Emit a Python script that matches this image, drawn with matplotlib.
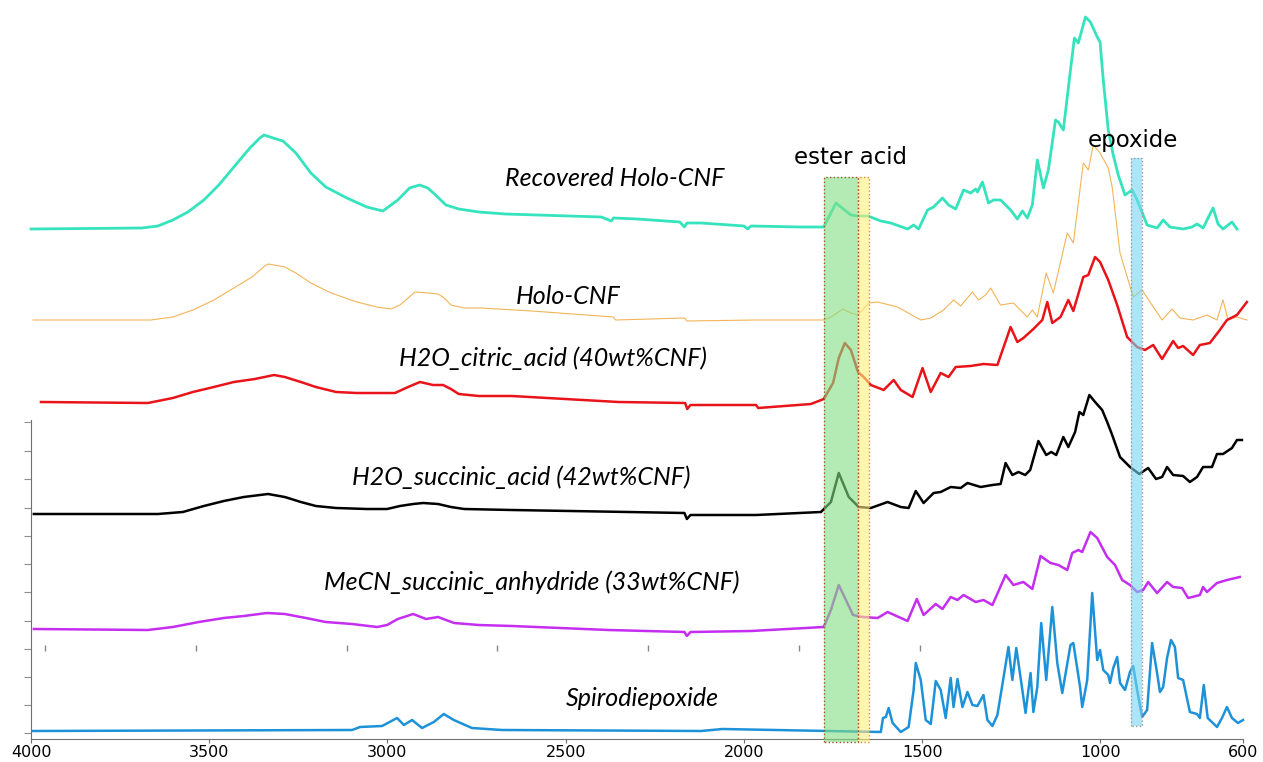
"""Stacked FTIR spectra of CNF composites with ester / acid / epoxide bands marked."""
import matplotlib
matplotlib.use("Agg")
import matplotlib.pyplot as plt
import numpy as np

# (wavenumber cm-1, offset absorbance in arbitrary units)
RECOVERED = [(4000, 510), (3689, 511), (3644, 513), (3602, 519), (3560, 527), (3515, 539), (3473, 554),
             (3431, 572), (3386, 591), (3358, 601), (3346, 604), (3321, 601), (3293, 598), (3257, 586),
             (3215, 566), (3173, 552), (3114, 541), (3058, 532), (3013, 528), (2971, 539), (2938, 551),
             (2910, 554), (2887, 551), (2865, 544), (2836, 534), (2800, 530), (2744, 527), (2670, 525),
             (2400, 522), (2372, 518), (2366, 521),
             (2300, 520), (2180, 517), (2167, 512), (2160, 516), (2120, 516), (2000, 513), (1990, 510),
             (1980, 513), (1840, 512), (1776, 512), (1742, 536), (1700, 524), (1680, 523), (1652, 523),
             (1616, 518), (1588, 516), (1541, 510), (1524, 514), (1510, 510), (1485, 529), (1468, 532),
             (1443, 541), (1426, 534), (1406, 530), (1384, 549), (1364, 546), (1350, 550), (1345, 547),
             (1331, 557), (1314, 536), (1300, 539), (1280, 539), (1252, 529), (1233, 520), (1219, 528),
             (1205, 521), (1191, 534), (1177, 579), (1160, 551), (1146, 569), (1126, 619), (1118, 617),
             (1104, 609), (1084, 669), (1073, 701), (1062, 696), (1042, 722), (1028, 717), (1009, 702),
             (1001, 697), (992, 659), (978, 609), (964, 584), (950, 564), (931, 544), (911, 549),
             (897, 539), (869, 514), (841, 511), (824, 519), (805, 512), (768, 510), (743, 512),
             (729, 515), (712, 511), (684, 531), (670, 515), (656, 510), (631, 517), (617, 510)]

HOLO = [(3994, 419), (3664, 419), (3602, 422), (3546, 429), (3487, 439), (3431, 451), (3380, 462),
        (3344, 473), (3335, 475), (3302, 473), (3288, 472), (3257, 466), (3215, 456), (3158, 446),
        (3086, 437), (3029, 432), (2990, 430), (2965, 434), (2942, 441), (2923, 447), (2886, 446),
        (2858, 445), (2844, 442), (2822, 434), (2785, 431), (2738, 431), (2595, 428),
        (2366, 422), (2360, 419), (2167, 421), (2160, 418), (1966, 419),
        (1776, 419), (1756, 422), (1722, 430), (1700, 426), (1680, 424), (1650, 436), (1625, 437),
        (1569, 432), (1504, 419), (1476, 421), (1440, 429), (1412, 439), (1392, 433), (1359, 447),
        (1342, 439), (1322, 444), (1308, 451), (1280, 434), (1244, 436), (1205, 422), (1191, 429),
        (1177, 422), (1152, 466), (1132, 446), (1093, 506), (1076, 496), (1048, 576), (1034, 569),
        (1020, 594), (1001, 586), (978, 571), (967, 552), (945, 486), (908, 442), (883, 449),
        (861, 437), (827, 419), (799, 430), (777, 421), (740, 419), (701, 424), (673, 419),
        (656, 439), (642, 419), (617, 422), (589, 419)]

CITRIC = [(3972, 337), (3672, 336), (3602, 341), (3546, 347), (3487, 352), (3431, 357), (3372, 360),
          (3318, 364), (3288, 362), (3243, 357), (3201, 352), (3144, 347), (3086, 346), (2979, 346),
          (2942, 352), (2909, 357), (2872, 354), (2844, 354), (2822, 350), (2800, 345), (2744, 343),
          (2651, 343),
          (2352, 337), (2165, 336), (2159, 330), (2150, 334), (1966, 334), (1960, 331), (1812, 335),
          (1776, 340), (1750, 356), (1734, 381), (1717, 396), (1700, 389), (1680, 367), (1664, 362),
          (1644, 354), (1608, 349), (1580, 359), (1560, 349), (1527, 342), (1499, 371), (1476, 347),
          (1448, 366), (1426, 362), (1406, 372), (1364, 373), (1328, 375), (1289, 374), (1252, 412),
          (1233, 397), (1216, 401), (1188, 410), (1163, 419), (1149, 437), (1135, 416), (1112, 422),
          (1090, 439), (1076, 428), (1048, 462), (1034, 464), (1015, 482), (1001, 477), (978, 459),
          (953, 434), (925, 402), (897, 392), (875, 389), (852, 394), (827, 380), (796, 398),
          (782, 391), (768, 393), (740, 384), (721, 394), (693, 396), (665, 409), (645, 419),
          (617, 424), (589, 437)]

SUCCINIC = [(3992, 225), (3644, 225), (3574, 227), (3515, 233), (3459, 238), (3403, 242), (3335, 245),
            (3288, 242), (3243, 237), (3201, 233), (3144, 231), (3058, 230), (3001, 230), (2965, 233),
            (2928, 235), (2900, 236), (2858, 235), (2822, 232), (2785, 230), (2651, 229),
            (2324, 227), (2167, 226), (2160, 220), (2150, 224), (1966, 224), (1784, 227), (1756, 237),
            (1734, 266), (1706, 242), (1678, 232), (1644, 231), (1597, 237), (1560, 232), (1538, 231),
            (1518, 248), (1496, 236), (1468, 246), (1448, 247), (1420, 252), (1392, 251), (1373, 256),
            (1336, 252), (1303, 254), (1280, 255), (1266, 276), (1247, 264), (1230, 267), (1211, 264),
            (1197, 269), (1174, 298), (1152, 284), (1138, 287), (1124, 284), (1104, 302), (1090, 292),
            (1071, 307), (1059, 327), (1048, 324), (1031, 344), (1015, 337), (995, 329), (981, 317),
            (967, 304), (945, 282), (917, 272), (891, 265), (866, 271), (844, 260), (827, 262),
            (813, 272), (796, 264), (768, 263), (749, 257), (729, 262), (712, 272), (687, 272),
            (673, 285), (656, 285), (631, 291), (617, 299), (603, 299)]

ANHYDRIDE = [(3992, 110), (3672, 109), (3602, 112), (3529, 117), (3459, 121), (3403, 123), (3338, 126),
             (3288, 125), (3229, 121), (3173, 117), (3100, 115), (3029, 112), (3001, 114), (2971, 120),
             (2928, 125), (2892, 120), (2858, 122), (2836, 119), (2813, 116), (2744, 114), (2651, 113),
             (2380, 109), (2167, 107), (2160, 103), (2150, 107), (1980, 108), (1776, 112), (1756, 129),
             (1734, 154), (1714, 139), (1694, 124), (1667, 122), (1625, 121), (1597, 127), (1541, 118),
             (1515, 140), (1496, 124), (1462, 135), (1443, 130), (1420, 142), (1401, 139), (1384, 144),
             (1350, 137), (1328, 139), (1303, 134), (1266, 164), (1244, 154), (1216, 157), (1191, 150),
             (1168, 183), (1140, 176), (1118, 174), (1093, 169), (1079, 186), (1062, 189), (1051, 187),
             (1028, 207), (1009, 201), (981, 182), (959, 174), (939, 159), (917, 154), (897, 147),
             (880, 149), (866, 157), (841, 146), (813, 157), (796, 152), (771, 151), (754, 141),
             (721, 144), (712, 152), (701, 147), (673, 156), (645, 159), (609, 162)]

SPIRO = [(3994, 8), (3099, 9), (3077, 12), (3015, 13), (2973, 21), (2954, 14), (2931, 19), (2903, 11),
         (2870, 17), (2842, 25), (2814, 19), (2763, 11), (2679, 9), (2120, 8), (2060, 10), (1616, 7),
         (1610, 21), (1602, 22), (1594, 31), (1583, 16), (1560, 7), (1538, 12), (1524, 49), (1518, 76),
         (1504, 59), (1490, 19), (1476, 15), (1468, 39), (1462, 58), (1448, 49), (1434, 21), (1420, 61),
         (1412, 32), (1401, 60), (1387, 32), (1373, 47), (1359, 34), (1345, 33), (1328, 44), (1317, 19),
         (1303, 13), (1289, 24), (1272, 61), (1258, 92), (1247, 59), (1236, 91), (1219, 49), (1210, 26),
         (1196, 66), (1188, 27), (1177, 52), (1166, 116), (1152, 59), (1135, 132), (1121, 76),
         (1107, 46), (1084, 94), (1076, 96), (1057, 52), (1051, 32), (1037, 59), (1023, 146),
         (1009, 79), (1001, 89), (992, 69), (978, 64), (973, 56), (964, 71), (953, 82), (945, 56),
         (931, 49), (917, 67), (908, 73), (897, 49), (883, 22), (869, 29), (855, 96), (841, 66),
         (833, 47), (824, 52), (813, 81), (802, 99), (791, 92), (782, 61), (768, 59), (749, 27),
         (729, 25), (721, 21), (710, 54), (699, 21), (673, 12), (659, 21), (645, 32), (631, 21),
         (614, 16), (600, 19)]

LABELS = ["Recovered Holo-CNF", "Holo-CNF", "H2O_citric_acid (40wt%CNF)",
          "H2O_succinic_acid (42wt%CNF)", "MeCN_succinic_anhydride (33wt%CNF)", "Spirodiepoxide"]
XTICKS = [4000, 3500, 3000, 2500, 2000, 1500, 1000, 600]
YTICKS = [6, 34, 62, 90, 118, 147, 175, 203, 231, 260, 288, 317]
STRAY_TICKS = [3961, 3537, 3114, 2693, 2269, 1846, 1506]  # leftover tick marks of a pasted panel

# bands: (wn high, wn low, y bottom, y top)
ESTER = (1776, 1680, -3, 562)
ACID = (1680, 1650, -3, 562)
EPOXIDE = (914, 883, 13, 581)

series = [
    (RECOVERED, "#35e3bd", 2.0, (2363, 561)),
    (HOLO, "#f2b458", 0.8, (2492, 442)),
    (CITRIC, "#e8141a", 1.8, (2537, 381)),
    (SUCCINIC, "#000000", 1.8, (2626, 262)),
    (ANHYDRIDE, "#c42ef0", 1.8, (2595, 157)),
    (SPIRO, "#1e92d8", 1.8, (2285, 41)),
]

fig = plt.figure(figsize=(12.63, 7.62), dpi=100)
ax = fig.add_axes([31 / 1263, 23 / 762, 1212 / 1263, 739 / 762])
ax.set_xlim(4000, 600)
ax.set_ylim(0, 739)

for (data, color, lw, (tx, ty)), label in zip(series, LABELS):
    wn, a = np.array(data, dtype=float).T
    ax.plot(wn, a, color=color, lw=lw, clip_on=False, zorder=2, solid_joinstyle="round")
    ax.text(tx, ty, label, ha="center", va="center", fontsize=18, style="italic",
            family="Lato", color="black")


def band(b, face, edge):
    x0, x1, y0, y1 = b
    ax.fill_between([x0, x1], y0, y1, facecolor=face, alpha=0.6, lw=0, zorder=3, clip_on=False)
    ax.plot([x0, x0, x1, x1, x0], [y0, y1, y1, y0, y0], color=edge, lw=1, ls=":",
            zorder=4, clip_on=False)


band(ACID, "#fcf07b", "#e8873a")
band(ESTER, "#82df82", "#a0522d")
band(EPOXIDE, "#78d5f0", "#999999")

ax.text(1700, 581, "ester acid", ha="center", va="center", fontsize=16.5, family="DejaVu Sans")
ax.text(908, 598, "epoxide", ha="center", va="center", fontsize=16.5, family="DejaVu Sans")

ax.plot(STRAY_TICKS, [91] * len(STRAY_TICKS), ls="none", marker="|", ms=4, mew=1,
        color="#888888", clip_on=False)

for s in ("top", "right"):
    ax.spines[s].set_visible(False)
ax.spines["left"].set_bounds(0, 319)
for s in ("left", "bottom"):
    ax.spines[s].set_color("#707070")
ax.set_xticks(XTICKS)
ax.set_xticklabels([str(t) for t in XTICKS], fontsize=11.5)
ax.set_yticks(YTICKS)
ax.set_yticklabels([])
ax.tick_params(axis="x", direction="out", length=3, color="#707070", pad=1)
ax.tick_params(axis="y", direction="out", length=5, color="#909090")

fig.savefig("out.png", dpi=100)
